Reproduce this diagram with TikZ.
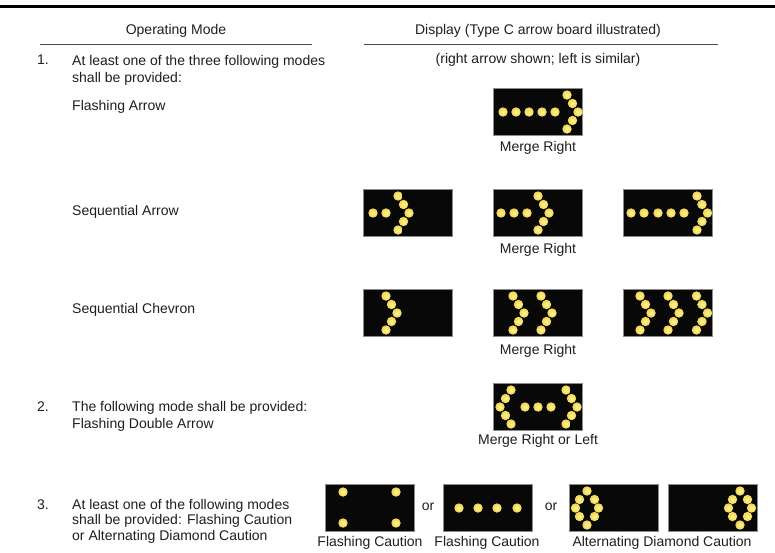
\documentclass[tikz,border=0pt]{standalone}
\usepackage{fontspec}
\setmainfont{Liberation Sans}
\definecolor{lampcore}{RGB}{255,244,150}
\definecolor{lampedge}{RGB}{240,212,80}
\begin{document}
\begin{tikzpicture}[x=1pt,y=-1pt,
  txt/.style={font=\fontsize{14}{16.7}\selectfont, inner sep=0pt, text=black!88},
  lbl/.style={txt, anchor=west, align=left},
  ctext/.style={txt, anchor=center},
  rule/.style={draw=black!70, line width=0.9pt},
  board/.style={draw=black!45, line width=0.8pt, fill=black!97, minimum width=89pt, minimum height=47pt, inner sep=0pt, anchor=north west},
  lamp/.style={inner color=lampcore, outer color=lampedge}
]
\newcommand{\lmp}[2]{\shade[lamp] (#1,#2) circle (4.7);}
\useasboundingbox (0,0) rectangle (775,552);
\fill[white] (0,0) rectangle (775,552);
\draw[line width=3pt] (0,6.5) -- (775,6.5);

% column headings
\node[ctext] (hmode) at (176,31) {Operating Mode};
\node[ctext] (hdisp) at (538,31) {Display (Type C arrow board illustrated)};
\draw[rule] (40,44) -- (312,44);
\draw[rule] (364,44) -- (718,44);

% item 1
\node[lbl] (n1) at (37,60) {1.};
\node[lbl, anchor=north west] (t1) at (72,55) {At least one of the three following modes\\shall be provided:};
\node[ctext] (note) at (538,60) {(right arrow shown; left is similar)};
\node[lbl] (fa) at (72,107) {Flashing Arrow};
\node[lbl] (sa) at (72,212) {Sequential Arrow};
\node[lbl] (sc) at (72,310) {Sequential Chevron};

% flashing arrow
\node[board] (b1) at (493,88) {};
\begin{scope}[shift={(b1.north west)}]
  \foreach \x in {10,23,36,49,62} {\lmp{\x}{24}}
  \lmp{74}{7}\lmp{79.5}{15.5}\lmp{85}{24}\lmp{79.5}{32.5}\lmp{74}{41}
\end{scope}
\node[ctext] (c1) at (538,148) {Merge Right};

% sequential arrow
\node[board] (b2a) at (363,189) {};
\node[board] (b2b) at (493,189) {};
\node[board] (b2c) at (623,189) {};
\begin{scope}[shift={(b2a.north west)}]
  \foreach \x in {10,23} {\lmp{\x}{24}}
  \lmp{35}{7}\lmp{40.5}{15.5}\lmp{46}{24}\lmp{40.5}{32.5}\lmp{35}{41}
\end{scope}
\begin{scope}[shift={(b2b.north west)}]
  \foreach \x in {8,21,34} {\lmp{\x}{24}}
  \lmp{45}{7}\lmp{50.5}{15.5}\lmp{56}{24}\lmp{50.5}{32.5}\lmp{45}{41}
\end{scope}
\begin{scope}[shift={(b2c.north west)}]
  \foreach \x in {8,21,35,48,61} {\lmp{\x}{24}}
  \lmp{74}{7}\lmp{79}{15.5}\lmp{84.5}{24}\lmp{79}{32.5}\lmp{74}{41}
\end{scope}
\node[ctext] (c2) at (538,250) {Merge Right};

% sequential chevron
\node[board] (b3a) at (363,289) {};
\node[board] (b3b) at (493,289) {};
\node[board] (b3c) at (623,289) {};
\begin{scope}[shift={(b3a.north west)}]
  \foreach \x in {23} {\lmp{\x}{7}\lmp{\x+5.5}{15.5}\lmp{\x+11}{24}\lmp{\x+5.5}{32.5}\lmp{\x}{41}}
\end{scope}
\begin{scope}[shift={(b3b.north west)}]
  \foreach \x in {20,48} {\lmp{\x}{7}\lmp{\x+5.5}{15.5}\lmp{\x+11}{24}\lmp{\x+5.5}{32.5}\lmp{\x}{41}}
\end{scope}
\begin{scope}[shift={(b3c.north west)}]
  \foreach \x in {17,45,73.5} {\lmp{\x}{7}\lmp{\x+5.5}{15.5}\lmp{\x+11}{24}\lmp{\x+5.5}{32.5}\lmp{\x}{41}}
\end{scope}
\node[ctext] (c3) at (538,351) {Merge Right};

% item 2
\node[lbl] (n2) at (37,407) {2.};
\node[lbl, anchor=north west] (t2) at (72,401) {The following mode shall be provided:\\Flashing Double Arrow};
\node[board] (b4) at (493,383) {};
\begin{scope}[shift={(b4.north west)}]
  \lmp{18}{7}\lmp{12.5}{15.5}\lmp{7}{24}\lmp{12.5}{32.5}\lmp{18}{41}
  \foreach \x in {32,45,58} {\lmp{\x}{24}}
  \lmp{73}{7}\lmp{78.5}{15.5}\lmp{84}{24}\lmp{78.5}{32.5}\lmp{73}{41}
\end{scope}
\node[ctext] (c4) at (538,441) {Merge Right or Left};

% item 3
\node[lbl] (n3) at (37,505) {3.};
\node[lbl, anchor=north west, font=\fontsize{14}{15.5}\selectfont] (t3) at (72,499) {At least one of the following modes\\shall be provided: Flashing Caution\\or Alternating Diamond Caution};
\node[board] (b5a) at (325,484) {};
\node[board] (b5b) at (443,484) {};
\node[board] (b5c) at (569,484) {};
\node[board] (b5d) at (668,484) {};
\node[ctext] (or1) at (428,507) {or};
\node[ctext] (or2) at (551,507) {or};
\begin{scope}[shift={(b5a.north west)}]
  \lmp{18}{8}\lmp{71}{8}\lmp{18}{39}\lmp{71}{39}
\end{scope}
\begin{scope}[shift={(b5b.north west)}]
  \foreach \x in {16,35,54,74} {\lmp{\x}{24}}
\end{scope}
\foreach \b/\cx in {b5c/18,b5d/72} {
  \begin{scope}[shift={(\b.north west)}]
    \lmp{\cx}{7}\lmp{\cx-7.5}{15.5}\lmp{\cx+7.5}{15.5}
    \lmp{\cx-11.5}{24}\lmp{\cx+11.5}{24}
    \lmp{\cx-7.5}{32.5}\lmp{\cx+7.5}{32.5}\lmp{\cx}{41}
  \end{scope}
}
\node[ctext] (c5a) at (370,543) {Flashing Caution};
\node[ctext] (c5b) at (487,543) {Flashing Caution};
\node[ctext] (c5c) at (662,543) {Alternating Diamond Caution};
\end{tikzpicture}
\end{document}
